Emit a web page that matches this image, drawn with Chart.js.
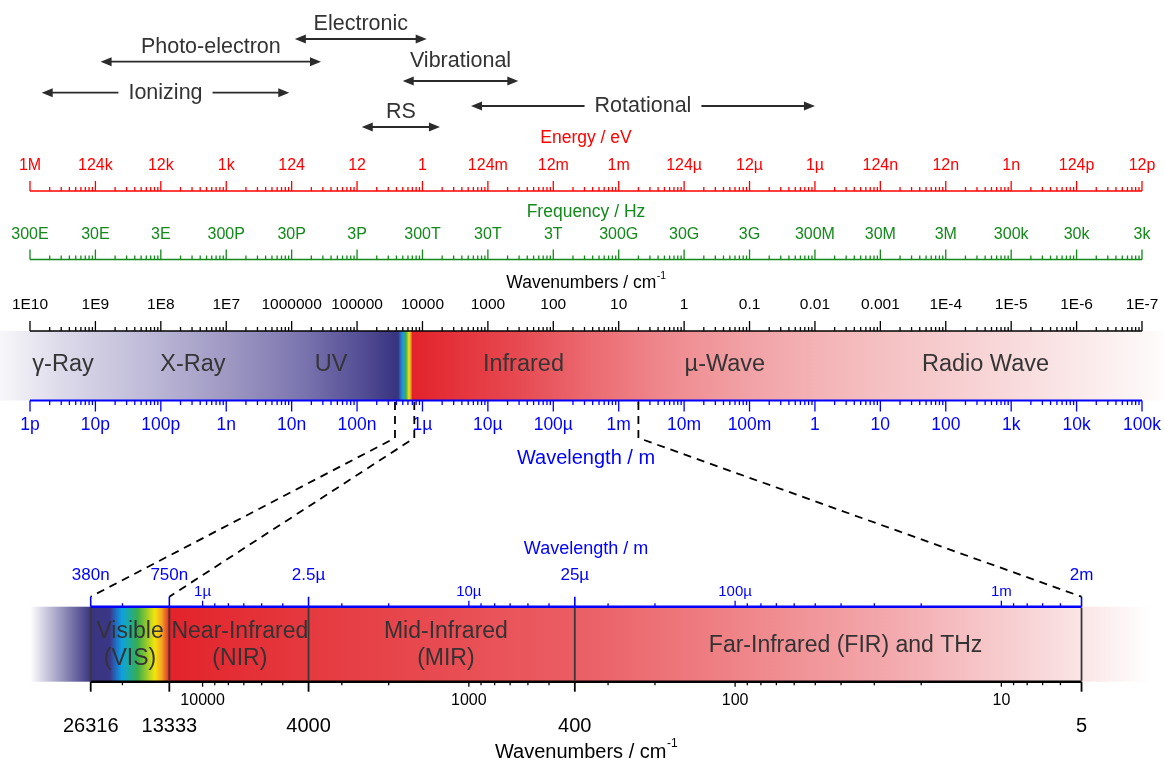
<!DOCTYPE html>
<html>
<head>
<meta charset="utf-8">
<title>Electromagnetic spectrum</title>
<script src="https://cdn.jsdelivr.net/npm/chart.js@4.4.1/dist/chart.umd.min.js"></script>
<style>
  html, body { margin: 0; padding: 0; background: #fff; }
  #wrap { width: 1164px; height: 763px; }
</style>
</head>
<body>
<div id="wrap"><canvas id="spectrum" width="1164" height="763"></canvas></div>
<script>
// wavelength decades of the main scale (m)
const decades = [1e-12, 1e-11, 1e-10, 1e-9, 1e-8, 1e-7, 1e-6, 1e-5, 1e-4, 1e-3, 1e-2, 1e-1, 1, 10, 100, 1e3, 1e4, 1e5];
const wavelengthLabels = ['1p', '10p', '100p', '1n', '10n', '100n', '1µ', '10µ', '100µ', '1m', '10m', '100m', '1', '10', '100', '1k', '10k', '100k'];
const energyLabels = ['1M', '124k', '12k', '1k', '124', '12', '1', '124m', '12m', '1m', '124µ', '12µ', '1µ', '124n', '12n', '1n', '124p', '12p'];
const frequencyLabels = ['300E', '30E', '3E', '300P', '30P', '3P', '300T', '30T', '3T', '300G', '30G', '3G', '300M', '30M', '3M', '300k', '30k', '3k'];
const wavenumberLabels = ['1E10', '1E9', '1E8', '1E7', '1000000', '100000', '10000', '1000', '100', '10', '1', '0.1', '0.01', '0.001', '1E-4', '1E-5', '1E-6', '1E-7'];

// regions written on the main band (centre wavelength, m)
const bandNames = ['γ-Ray', 'X-Ray', 'UV', 'Infrared', 'µ-Wave', 'Radio Wave'];
const bandCentres = [3.2e-12, 3.1e-10, 4.0e-8, 3.5e-5, 4.2e-2, 405];

// spectroscopy ranges shown as arrows (wavelength, m)
const rangeNames = ['Electronic', 'Photo-electron', 'Vibrational', 'Ionizing', 'Rotational', 'RS'];
const rangeFrom = [1.12e-8, 1.2e-11, 4.99e-7, 1.51e-12, 5.52e-6, 1.18e-7];
const rangeTo = [1.16e-6, 2.81e-8, 2.92e-5, 9.2e-9, 1.0, 1.85e-6];

// zoomed part, borders in wavenumbers (cm-1)
const borderWavenumbers = [26316, 13333, 4000, 400, 5];
const borderWavelengthLabels = ['380n', '750n', '2.5µ', '25µ', '2m'];
const borderWavenumberLabels = ['26316', '13333', '4000', '400', '5'];
const regionNames = [['Visible', '(VIS)'], ['Near-Infrared', '(NIR)'], ['Mid-Infrared', '(MIR)'], ['Far-Infrared (FIR) and THz']];
const regionCentres = [5.34e-7, 1.38e-6, 8.2e-6, 2.6e-4];
const zoomDecadeWavenumbers = [10000, 1000, 100, 10];
const zoomDecadeWavelengthLabels = ['1µ', '10µ', '100µ', '1m'];
const zoomDecadeWavenumberLabels = ['10000', '1000', '100', '10'];
const zoomMinorWavenumbers = [20000, 9000, 8000, 7000, 6000, 5000, 3000, 2000, 900, 800, 700, 600, 500, 300, 200,
  90, 80, 70, 60, 50, 40, 30, 20, 9, 8, 7, 6];
const connectorWavenumbers = [26316, 13333, 5];

// layout (y in px) and styles
const Y = {
  energyTitle: 138, energyLabels: 165.5, energyAxis: 191,
  freqTitle: 212.5, freqLabels: 235, freqAxis: 259.5,
  wnTitle: 283.5, wnLabels: 305, wnAxis: 331,
  bandTop: 331, bandBottom: 400.5, bandText: 365,
  wlAxis: 400.5, wlLabels: 425, wlTitle: 458,
  connectStart: 402, kink: 438,
  zTitle: 549.5, zMajor: 575, zMinor: 591.5, zTickTop: 596.7, zTop: 606.7,
  zBottom: 681.7, zTickBottom: 691.7, zMinorBottom: 700.7, zMajorBottom: 726, zBottomTitle: 752.5
};
const arrowRows = [39, 61.7, 81, 92.7, 106, 127];
const arrowLabelRows = [24.5, 47.3, 61, null, null, 111.7]; // null: label sits inside the arrow

const RED = '#ff0000', GREEN = '#12891a', BLUE = '#0000ff', INK = '#333333';

// colour stops [log10(wavelength), colour]
const mainBandStops = [
  [-12.46, '#f7f7fa'], [-11.54, '#dddbea'], [-10.17, '#bdb9d7'], [-9.0, '#9f99c3'], [-7.87, '#7c76b0'],
  [-6.96, '#554f96'], [-6.42, '#3a3581'], [-6.37, '#3a3581'], [-6.333, '#2a6fc2'], [-6.298, '#17a0d8'],
  [-6.252, '#3fae48'], [-6.206, '#f2e21a'], [-6.18, '#f39a22'], [-6.152, '#e3232b'], [-4.51, '#e74a52'],
  [-3.38, '#eb6c72'], [-2.25, '#ef8a8f'], [-1.11, '#f1a0a4'], [0.03, '#f4b3b6'], [1.16, '#f5c2c4'],
  [2.29, '#f7d0d2'], [3.43, '#f9e0e1'], [4.56, '#fcf0f0'], [5.34, '#fefcfc']
];
const zoomBandStops = [
  [-6.648, '#ffffff'], [-6.42, '#3a3581'], [-6.348, '#3b3786'], [-6.325, '#1f6fc4'], [-6.304, '#0f9fde'],
  [-6.28, '#1aa9a8'], [-6.243, '#3cad4a'], [-6.209, '#9ccb2a'], [-6.179, '#f5e40c'], [-6.154, '#f4a623'],
  [-6.137, '#ea5a26'], [-6.124, '#e3232b'], [-5.589, '#e53a40'], [-4.614, '#ea5d63'], [-3.974, '#ef8589'],
  [-3.414, '#f3a9ad'], [-2.858, '#f8d7d9'], [-2.699, '#fae5e6'], [-2.44, '#ffffff']
];

const FONT = '"Liberation Sans", Arial, Helvetica, sans-serif';
const font = size => size + 'px ' + FONT;
const wnToWl = wn => 0.01 / wn;

const spectrumPlugin = {
  id: 'spectrum',
  afterDraw(chart) {
    const ctx = chart.ctx;
    const sx = chart.scales.x, sz = chart.scales.xz, sy = chart.scales.y;
    const X = v => sx.getPixelForValue(v);
    const Z = v => sz.getPixelForValue(v);
    const V = v => sy.getPixelForValue(v);
    const last = decades.length - 1;
    const midX = (X(decades[0]) + X(decades[last])) / 2;

    ctx.save();
    ctx.textAlign = 'center';
    ctx.textBaseline = 'middle';

    function band(scaleFn, stops, left, right, top, bottom) {
      const g = ctx.createLinearGradient(left, 0, right, 0);
      stops.forEach(([p, c]) => {
        const f = (scaleFn(Math.pow(10, p)) - left) / (right - left);
        g.addColorStop(Math.min(1, Math.max(0, f)), c);
      });
      ctx.fillStyle = g;
      ctx.fillRect(left, top, right - left, bottom - top);
    }

    function line(x1, y1, x2, y2) {
      ctx.beginPath(); ctx.moveTo(x1, y1); ctx.lineTo(x2, y2); ctx.stroke();
    }

    function text(t, x, y, size, color) {
      ctx.font = font(size); ctx.fillStyle = color; ctx.fillText(t, x, y);
    }

    function title(t, sup, cx, y, size, color) {
      ctx.font = font(size);
      const w = ctx.measureText(t).width;
      let ws = 0;
      if (sup) { ctx.font = font(size * 0.6); ws = ctx.measureText(sup).width; }
      const x0 = cx - (w + ws) / 2;
      ctx.textAlign = 'left';
      ctx.fillStyle = color;
      ctx.font = font(size);
      ctx.fillText(t, x0, y);
      if (sup) { ctx.font = font(size * 0.6); ctx.fillText(sup, x0 + w + 0.5, y - size * 0.42); }
      ctx.textAlign = 'center';
    }

    // log axis of the main scale, dir -1 = ticks upwards
    function logAxis(y, dir, color, lineW, majorLen, minorLen) {
      ctx.strokeStyle = color;
      ctx.lineWidth = lineW;
      line(X(decades[0]), y, X(decades[last]), y);
      ctx.lineWidth = 1.3;
      ctx.beginPath();
      decades.forEach((d, i) => {
        const x = X(d);
        ctx.moveTo(x, y); ctx.lineTo(x, y + dir * majorLen);
        if (i < last) {
          for (let k = 2; k <= 9; k++) {
            const xm = X(k * d);
            ctx.moveTo(xm, y); ctx.lineTo(xm, y + dir * minorLen);
          }
        }
      });
      ctx.stroke();
    }

    function axisLabels(labels, y, size, color) {
      labels.forEach((t, i) => text(t, X(decades[i]), y, size, color));
    }

    // ---- main band ----
    band(X, mainBandStops, 0, chart.width, V(Y.bandTop), V(Y.bandBottom));
    ctx.fillStyle = INK;
    bandNames.forEach((n, i) => text(n, X(bandCentres[i]), V(Y.bandText), 23.5, '#353535'));

    // ---- stacked axes ----
    title('Energy / eV', null, midX, V(Y.energyTitle), 17.5, RED);
    axisLabels(energyLabels, V(Y.energyLabels), 16, RED);
    logAxis(V(Y.energyAxis), -1, RED, 1.5, 10, 4);

    title('Frequency / Hz', null, midX, V(Y.freqTitle), 17.5, GREEN);
    axisLabels(frequencyLabels, V(Y.freqLabels), 16, GREEN);
    logAxis(V(Y.freqAxis), -1, GREEN, 1.5, 10, 4);

    title('Wavenumbers / cm', '-1', midX, V(Y.wnTitle), 17.5, '#000');
    axisLabels(wavenumberLabels, V(Y.wnLabels), 15.5, '#000');
    logAxis(V(Y.wnAxis), -1, '#000', 1.5, 10, 4);

    logAxis(V(Y.wlAxis), 1, BLUE, 2.2, 11, 4.5);
    axisLabels(wavelengthLabels, V(Y.wlLabels), 17.5, BLUE);
    title('Wavelength / m', null, midX, V(Y.wlTitle), 20, BLUE);

    // ---- zoomed part ----
    const zl = Z(wnToWl(borderWavenumbers[0]));
    const zr = Z(wnToWl(borderWavenumbers[borderWavenumbers.length - 1]));
    band(Z, zoomBandStops, chart.chartArea.left, chart.width, V(Y.zTop), V(Y.zBottom));

    regionNames.forEach((lines, i) => {
      const x = Z(regionCentres[i]);
      if (lines.length === 1) {
        text(lines[0], x, (V(Y.zTop) + V(Y.zBottom)) / 2 + 1, 23, INK);
      } else {
        text(lines[0], x, V(631.7), 23, INK);
        text(lines[1], x, V(658.3), 23, INK);
      }
    });

    // wavelength axis on top of the zoomed band
    ctx.strokeStyle = BLUE;
    ctx.lineWidth = 2.5;
    line(zl, V(Y.zTop), zr, V(Y.zTop));
    ctx.lineWidth = 1.3;
    zoomMinorWavenumbers.forEach(wn => line(Z(wnToWl(wn)), V(Y.zTop), Z(wnToWl(wn)), V(Y.zTop) - 3.5));
    zoomDecadeWavenumbers.forEach(wn => line(Z(wnToWl(wn)), V(Y.zTop), Z(wnToWl(wn)), V(Y.zTop) - 6));
    ctx.lineWidth = 1.6;
    borderWavenumbers.forEach(wn => line(Z(wnToWl(wn)), V(Y.zTop), Z(wnToWl(wn)), V(Y.zTickTop)));

    // wavenumber axis below
    ctx.strokeStyle = '#000';
    ctx.lineWidth = 2.5;
    line(zl, V(Y.zBottom), zr, V(Y.zBottom));
    ctx.lineWidth = 1.3;
    zoomMinorWavenumbers.forEach(wn => line(Z(wnToWl(wn)), V(Y.zBottom), Z(wnToWl(wn)), V(Y.zBottom) + 3.5));
    zoomDecadeWavenumbers.forEach(wn => line(Z(wnToWl(wn)), V(Y.zBottom), Z(wnToWl(wn)), V(Y.zBottom) + 5));
    ctx.lineWidth = 1.8;
    borderWavenumbers.forEach(wn => line(Z(wnToWl(wn)), V(Y.zBottom), Z(wnToWl(wn)), V(Y.zTickBottom)));

    // region borders through the band
    ctx.strokeStyle = '#383838';
    ctx.lineWidth = 1.8;
    borderWavenumbers.forEach(wn => line(Z(wnToWl(wn)), V(Y.zTop) + 1, Z(wnToWl(wn)), V(Y.zBottom) - 1));

    title('Wavelength / m', null, midX, V(Y.zTitle), 18, BLUE);
    borderWavelengthLabels.forEach((t, i) => text(t, Z(wnToWl(borderWavenumbers[i])), V(Y.zMajor), 17, BLUE));
    zoomDecadeWavelengthLabels.forEach((t, i) => text(t, Z(wnToWl(zoomDecadeWavenumbers[i])), V(Y.zMinor), 15, BLUE));
    zoomDecadeWavenumberLabels.forEach((t, i) => text(t, Z(wnToWl(zoomDecadeWavenumbers[i])), V(Y.zMinorBottom), 16, '#000'));
    borderWavenumberLabels.forEach((t, i) => text(t, Z(wnToWl(borderWavenumbers[i])), V(Y.zMajorBottom), 20, '#000'));
    title('Wavenumbers / cm', '-1', midX, V(Y.zBottomTitle), 20, '#000');

    // dashed connectors from the main scale to the zoomed scale
    ctx.strokeStyle = '#000';
    ctx.lineWidth = 1.8;
    ctx.setLineDash([8, 6]);
    connectorWavenumbers.forEach(wn => {
      const wl = wnToWl(wn);
      ctx.beginPath();
      ctx.moveTo(X(wl), V(Y.connectStart));
      ctx.lineTo(X(wl), V(Y.kink));
      ctx.lineTo(Z(wl), V(Y.zTickTop));
      ctx.stroke();
    });
    ctx.setLineDash([]);

    // ---- arrows ----
    const head = 11, half = 4.5;
    ctx.strokeStyle = '#2b2b2b';
    ctx.fillStyle = '#2b2b2b';
    rangeNames.forEach((name, i) => {
      const x1 = X(rangeFrom[i]), x2 = X(rangeTo[i]), y = V(arrowRows[i]);
      const cx = (x1 + x2) / 2;
      ctx.font = font(21.5);
      ctx.lineWidth = 1.8;
      if (arrowLabelRows[i] === null) {
        const w = ctx.measureText(name).width;
        line(x1 + head - 1, y, cx - w / 2 - 10, y);
        line(cx + w / 2 + 10, y, x2 - head + 1, y);
        text(name, cx, y, 21.5, INK);
      } else {
        line(x1 + head - 1, y, x2 - head + 1, y);
        text(name, cx, V(arrowLabelRows[i]), 21.5, INK);
      }
      ctx.fillStyle = '#2b2b2b';
      ctx.beginPath();
      ctx.moveTo(x1, y); ctx.lineTo(x1 + head, y - half); ctx.lineTo(x1 + head, y + half); ctx.closePath();
      ctx.moveTo(x2, y); ctx.lineTo(x2 - head, y - half); ctx.lineTo(x2 - head, y + half); ctx.closePath();
      ctx.fill();
    });

    ctx.restore();
  }
};

const ctx = document.getElementById('spectrum').getContext('2d');
const chart = new Chart(ctx, {
  type: 'scatter',
  data: { datasets: [] },
  options: {
    responsive: false,
    animation: false,
    events: [],
    layout: { padding: { left: 30, right: 22, top: 0, bottom: 0 } },
    plugins: { legend: { display: false }, tooltip: { enabled: false } },
    scales: {
      x: { type: 'logarithmic', min: 1e-12, max: 1e5, bounds: 'data', display: false },
      xz: { type: 'logarithmic', axis: 'x', position: 'bottom', min: 2.248e-7, max: 3.374e-3, bounds: 'data', display: false },
      y: { type: 'linear', min: 0, max: 763, reverse: true, display: false }
    }
  },
  plugins: [spectrumPlugin]
});
</script>
</body>
</html>
